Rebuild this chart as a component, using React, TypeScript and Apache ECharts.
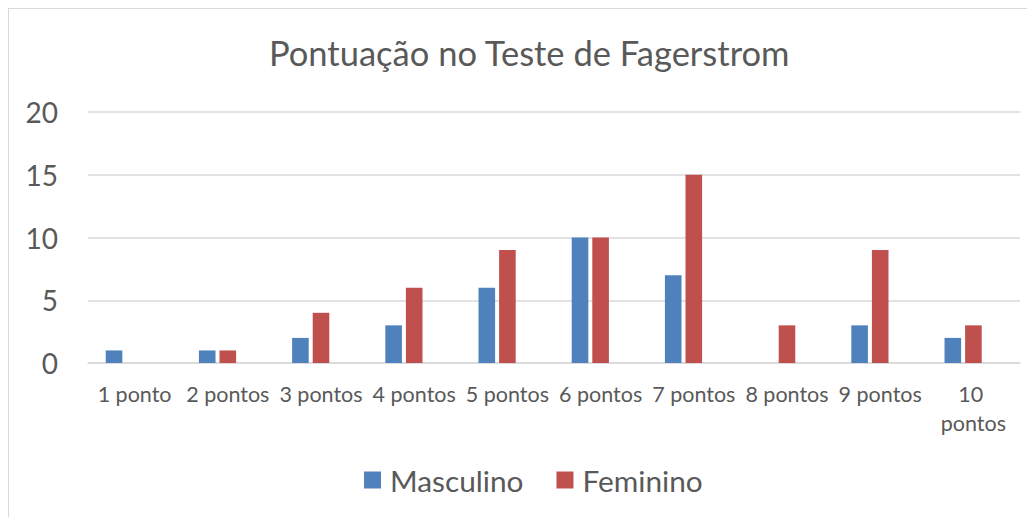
import React, { useEffect, useRef } from "react";
import * as echarts from "echarts";

const categories = ["1 ponto", "2 pontos", "3 pontos", "4 pontos", "5 pontos", "6 pontos", "7 pontos", "8 pontos", "9 pontos", "10 pontos"];
const masculino = [1, 1, 2, 3, 6, 10, 7, 0, 3, 2];
const feminino = [0, 1, 4, 6, 9, 10, 15, 3, 9, 3];
const emptySeries: (number | null)[] = [null, null, null, null, null, null, null, null, null, null];

const FONT = "Lato";

export default function App() {
  const ref = useRef<HTMLDivElement>(null);
  useEffect(() => {
    if (!ref.current) return;
    const chart = echarts.init(ref.current, null, { renderer: "svg" });
    chart.setOption({
      animation: false,
      title: {
        text: "Pontuação no Teste de Fagerstrom",
        left: 255,
        top: 21,
        textStyle: { fontFamily: FONT, fontSize: 34.5, fontWeight: "normal", color: "#595959" },
      },
      legend: {
        data: ["Masculino", "Feminino"],
        left: 350,
        top: 451,
        itemWidth: 17,
        itemHeight: 17,
        itemGap: 33,
        icon: "rect",
        textStyle: { fontFamily: FONT, fontSize: 29.8, color: "#595959", padding: [0, 0, 0, 4] },
      },
      grid: { left: 79, right: 15, top: 103, bottom: 154, containLabel: false },
      xAxis: {
        type: "category",
        data: categories,
        axisLine: { lineStyle: { color: "#d9d9d9", width: 1.5 } },
        axisTick: { show: false },
        axisLabel: {
          fontFamily: FONT,
          fontSize: 21.5,
          color: "#595959",
          margin: 16,
          interval: 0,
          lineHeight: 29,
          width: 92,
          overflow: "break",
        },
      },
      yAxis: {
        type: "value",
        min: 0,
        max: 20,
        interval: 5,
        splitLine: { lineStyle: { color: "#d9d9d9", width: 1.5 } },
        axisLine: { show: false },
        axisTick: { show: false },
        axisLabel: { fontFamily: FONT, fontSize: 28, color: "#595959", margin: 30 },
      },
      series: [
        { name: "Masculino", type: "bar", data: masculino, barWidth: 16.6, barGap: "24%", itemStyle: { color: "#4F81BD" } },
        { name: "Feminino", type: "bar", data: feminino, barWidth: 16.6, barGap: "24%", itemStyle: { color: "#C0504D" } },
        { name: "Vazio", type: "bar", data: emptySeries, barWidth: 16.6, barGap: "24%", itemStyle: { color: "transparent" } },
      ],
    });
    return () => chart.dispose();
  }, []);
  return (
    <div
      ref={ref}
      style={{
        width: 1027,
        height: 509,
        boxSizing: "border-box",
        borderLeft: "1px solid #d9d9d9",
        borderTop: "1px solid #d9d9d9",
        background: "#fff",
      }}
    />
  );
}
